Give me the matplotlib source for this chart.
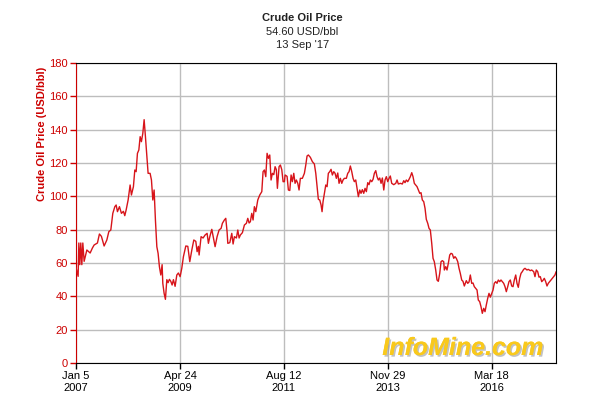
import matplotlib
matplotlib.use("Agg")
import matplotlib.pyplot as plt
import matplotlib.patheffects as pe
import numpy as np
import pandas as pd

# ---- data (decimal year, USD/bbl) ----
years = [
 2007.014, 2007.058, 2007.074, 2007.095, 2007.117, 2007.140, 2007.162, 2007.191, 2007.251, 2007.324,
 2007.374, 2007.412, 2007.485, 2007.529, 2007.573, 2007.633, 2007.693, 2007.737, 2007.781, 2007.825,
 2007.870, 2007.899, 2007.928, 2007.972, 2008.016, 2008.060, 2008.090, 2008.120, 2008.164, 2008.208,
 2008.237, 2008.281, 2008.312, 2008.341, 2008.370, 2008.401, 2008.430, 2008.458, 2008.489, 2008.518,
 2008.547, 2008.578, 2008.606, 2008.650, 2008.680, 2008.710, 2008.739, 2008.768, 2008.799, 2008.827,
 2008.856, 2008.887, 2008.916, 2008.931, 2008.960, 2008.989, 2009.020, 2009.048, 2009.077, 2009.108,
 2009.137, 2009.166, 2009.203, 2009.241, 2009.276, 2009.314, 2009.351, 2009.387, 2009.440, 2009.484,
 2009.528, 2009.573, 2009.617, 2009.661, 2009.690, 2009.719, 2009.734, 2009.778, 2009.822, 2009.867,
 2009.911, 2009.940, 2009.971, 2010.015, 2010.059, 2010.088, 2010.132, 2010.176, 2010.221, 2010.249,
 2010.293, 2010.324, 2010.353, 2010.369, 2010.413, 2010.457, 2010.486, 2010.515, 2010.559, 2010.590,
 2010.619, 2010.647, 2010.692, 2010.736, 2010.780, 2010.811, 2010.840, 2010.868, 2010.899, 2010.928,
 2010.957, 2010.988, 2011.032, 2011.076, 2011.121, 2011.149, 2011.178, 2011.209, 2011.238, 2011.267,
 2011.297, 2011.326, 2011.355, 2011.386, 2011.415, 2011.443, 2011.466, 2011.503, 2011.532, 2011.563,
 2011.592, 2011.621, 2011.636, 2011.680, 2011.709, 2011.740, 2011.769, 2011.797, 2011.828, 2011.857,
 2011.886, 2011.917, 2011.945, 2011.974, 2012.018, 2012.063, 2012.094, 2012.122, 2012.151, 2012.195,
 2012.240, 2012.284, 2012.315, 2012.343, 2012.372, 2012.403, 2012.432, 2012.454, 2012.476, 2012.505,
 2012.536, 2012.565, 2012.593, 2012.624, 2012.653, 2012.682, 2012.713, 2012.742, 2012.770, 2012.801,
 2012.830, 2012.859, 2012.890, 2012.918, 2012.947, 2012.991, 2013.022, 2013.051, 2013.080, 2013.111,
 2013.140, 2013.168, 2013.199, 2013.228, 2013.257, 2013.288, 2013.316, 2013.345, 2013.376, 2013.405,
 2013.434, 2013.465, 2013.493, 2013.522, 2013.553, 2013.582, 2013.611, 2013.642, 2013.670, 2013.699,
 2013.730, 2013.759, 2013.788, 2013.819, 2013.847, 2013.876, 2013.907, 2013.936, 2013.964, 2013.995,
 2014.040, 2014.084, 2014.113, 2014.141, 2014.186, 2014.230, 2014.261, 2014.289, 2014.318, 2014.349,
 2014.378, 2014.407, 2014.438, 2014.466, 2014.495, 2014.526, 2014.555, 2014.584, 2014.615, 2014.643,
 2014.672, 2014.703, 2014.732, 2014.760, 2014.792, 2014.820, 2014.849, 2014.880, 2014.909, 2014.937,
 2014.968, 2014.997, 2015.026, 2015.057, 2015.086, 2015.114, 2015.145, 2015.159, 2015.190, 2015.218,
 2015.247, 2015.278, 2015.307, 2015.336, 2015.367, 2015.395, 2015.424, 2015.455, 2015.484, 2015.512,
 2015.543, 2015.572, 2015.601, 2015.645, 2015.676, 2015.705, 2015.734, 2015.764, 2015.793, 2015.822,
 2015.853, 2015.882, 2015.910, 2015.941, 2015.970, 2015.999, 2016.030, 2016.059, 2016.087, 2016.118,
 2016.147, 2016.176, 2016.207, 2016.236, 2016.264, 2016.295, 2016.324, 2016.353, 2016.384, 2016.412,
 2016.441, 2016.472, 2016.501, 2016.530, 2016.561, 2016.589, 2016.618, 2016.649, 2016.678, 2016.707,
 2016.738, 2016.766, 2016.795, 2016.826, 2016.855, 2016.883, 2016.914, 2016.943, 2016.987, 2017.016,
 2017.060, 2017.091, 2017.136, 2017.164, 2017.193, 2017.224, 2017.253, 2017.282, 2017.313, 2017.341,
 2017.370, 2017.401, 2017.430, 2017.458, 2017.489, 2017.518, 2017.547, 2017.578, 2017.606, 2017.629,
]
prices = [
 57.0, 52.0, 72.0, 59.0, 72.0, 59.0, 72.0, 61.0, 67.8, 66.0,
 69.0, 70.8, 72.0, 77.4, 76.0, 70.2, 73.8, 78.8, 79.8, 89.8,
 93.8, 94.8, 90.8, 93.8, 89.8, 91.0, 88.4, 91.8, 97.8, 106.8,
 100.8, 105.8, 115.8, 114.8, 125.8, 127.8, 135.8, 132.8, 137.8, 146.0,
 135.8, 123.8, 113.8, 113.8, 109.8, 97.8, 103.8, 85.8, 69.8, 65.8,
 57.8, 52.8, 59.0, 47.8, 41.8, 38.2, 50.0, 48.2, 50.2, 49.0,
 46.8, 50.0, 46.0, 52.8, 54.0, 51.8, 56.8, 63.8, 70.2, 70.0,
 60.8, 67.8, 73.8, 73.0, 66.8, 70.0, 64.8, 75.8, 75.0, 76.8,
 77.8, 71.8, 75.8, 80.2, 73.8, 69.8, 75.8, 79.8, 80.8, 83.8,
 85.8, 86.8, 78.8, 71.8, 72.2, 77.8, 71.4, 75.8, 75.0, 79.8,
 75.0, 76.8, 78.2, 82.8, 83.8, 86.8, 84.0, 84.8, 89.8, 85.8,
 93.8, 90.8, 97.8, 100.8, 102.8, 114.8, 115.8, 111.8, 125.8, 122.8,
 124.8, 109.8, 113.8, 113.0, 117.8, 116.0, 104.8, 117.8, 118.8, 116.0,
 108.8, 108.8, 112.8, 112.0, 103.8, 103.5, 112.8, 108.8, 113.8, 107.8,
 109.8, 107.8, 103.8, 110.8, 110.8, 113.8, 118.8, 124.2, 124.8, 123.4,
 120.8, 119.4, 113.8, 105.8, 98.2, 97.8, 94.8, 90.8, 96.8, 101.8,
 106.8, 105.8, 113.8, 114.8, 116.2, 112.8, 114.8, 113.8, 110.8, 114.0,
 107.8, 110.8, 107.8, 109.8, 110.8, 110.8, 113.8, 114.8, 118.2, 114.8,
 110.8, 108.8, 109.8, 104.8, 99.8, 103.8, 101.8, 104.0, 101.8, 104.8,
 102.8, 108.2, 107.0, 109.8, 108.8, 110.2, 113.8, 115.4, 111.8, 109.8,
 111.0, 107.8, 111.0, 103.8, 109.8, 111.8, 108.8, 110.8, 112.2, 107.8,
 107.0, 107.8, 109.8, 107.4, 107.8, 107.4, 109.4, 108.2, 109.8, 108.8,
 110.2, 111.8, 114.2, 111.8, 107.8, 106.8, 105.8, 103.8, 101.8, 102.2,
 97.8, 96.8, 92.8, 86.2, 83.8, 80.8, 79.8, 71.8, 62.8, 60.8,
 55.8, 49.8, 49.0, 53.8, 60.8, 61.4, 60.8, 55.8, 57.8, 55.8,
 59.8, 64.8, 65.8, 65.4, 62.8, 63.8, 62.8, 60.8, 56.8, 53.8,
 49.8, 49.0, 46.2, 49.4, 47.8, 48.6, 52.8, 47.8, 48.0, 45.8,
 44.8, 43.8, 37.8, 36.8, 33.8, 29.8, 32.8, 30.8, 34.8, 38.8,
 41.8, 39.5, 41.8, 43.8, 47.8, 48.8, 47.8, 49.8, 48.8, 49.8,
 48.8, 47.8, 45.8, 42.8, 45.8, 48.8, 49.8, 46.2, 45.8, 49.8,
 52.8, 47.8, 45.4, 50.8, 53.8, 54.8, 56.2, 56.8, 55.8, 56.2,
 55.4, 55.8, 54.8, 51.8, 55.8, 54.8, 51.5, 51.8, 48.8, 49.6,
 50.8, 48.8, 46.2, 47.8, 48.8, 49.8, 50.8, 51.8, 52.8, 54.6,
]
tick_dates = ["2007-01-05", "2009-04-24", "2011-08-12", "2013-11-29", "2016-03-18"]
tick_labels = ["Jan 5\n2007", "Apr 24\n2009", "Aug 12\n2011", "Nov 29\n2013", "Mar 18\n2016"]
y_ticks = [0, 20, 40, 60, 80, 100, 120, 140, 160, 180]
title = "Crude Oil Price"
subtitle = "54.60 USD/bbl"
date_text = "13 Sep '17"

plt.rcParams['font.family'] = ['Liberation Sans', 'DejaVu Sans']

red = '#cc0000'
base = pd.Timestamp("2007-01-01")
dates = base + pd.to_timedelta((np.array(years) - 2007.0) * 365.25, unit="D")

fig = plt.figure(figsize=(6.05, 4.13), dpi=100)
ax = fig.add_axes([76/605, 1 - 363/413, 480/605, 300/413])
ax.plot(dates, prices, color='#d7141a', lw=1.0, zorder=3)

ax.set_xlim(pd.Timestamp("2007-01-05"), base + pd.to_timedelta(10.629 * 365.25, unit="D"))
ax.set_ylim(0, 180)
ax.set_yticks(y_ticks)
ax.set_xticks(pd.to_datetime(tick_dates))
ax.set_xticklabels(tick_labels)
ax.grid(True, color='#bdbdbd', lw=1.0)
ax.set_axisbelow(True)

ax.tick_params(axis='y', colors=red, labelsize=8, length=4, width=1, pad=2)
ax.tick_params(axis='x', colors='black', labelsize=8, length=4, width=1, pad=2)
for s in ['top', 'right', 'bottom']:
    ax.spines[s].set_color('black')
ax.spines['left'].set_color(red)

fig.text(42/605, 1 - 67/413, "Crude Oil Price (USD/bbl)", rotation=90, ha='center', va='top',
         color=red, fontsize=8, fontweight='bold')

fig.text(0.5, 1 - 18/413, title, ha='center', va='center', fontsize=8, fontweight='bold', color='#222222')
fig.text(0.5, 1 - 32/413, subtitle, ha='center', va='center', fontsize=8, color='#222222')
fig.text(0.5, 1 - 45/413, date_text, ha='center', va='center', fontsize=8, color='#222222')

ax.text(0.806, 0.05, "InfoMine.com", transform=ax.transAxes, ha='center', va='center',
        fontsize=18, fontweight='bold', fontstyle='italic', color='#f9c91c',
        path_effects=[pe.withSimplePatchShadow(offset=(1.2, -1.2), shadow_rgbFace='#9a9a9a', alpha=0.6), pe.Normal()],
        zorder=1)

fig.savefig("out.png", dpi=100)
